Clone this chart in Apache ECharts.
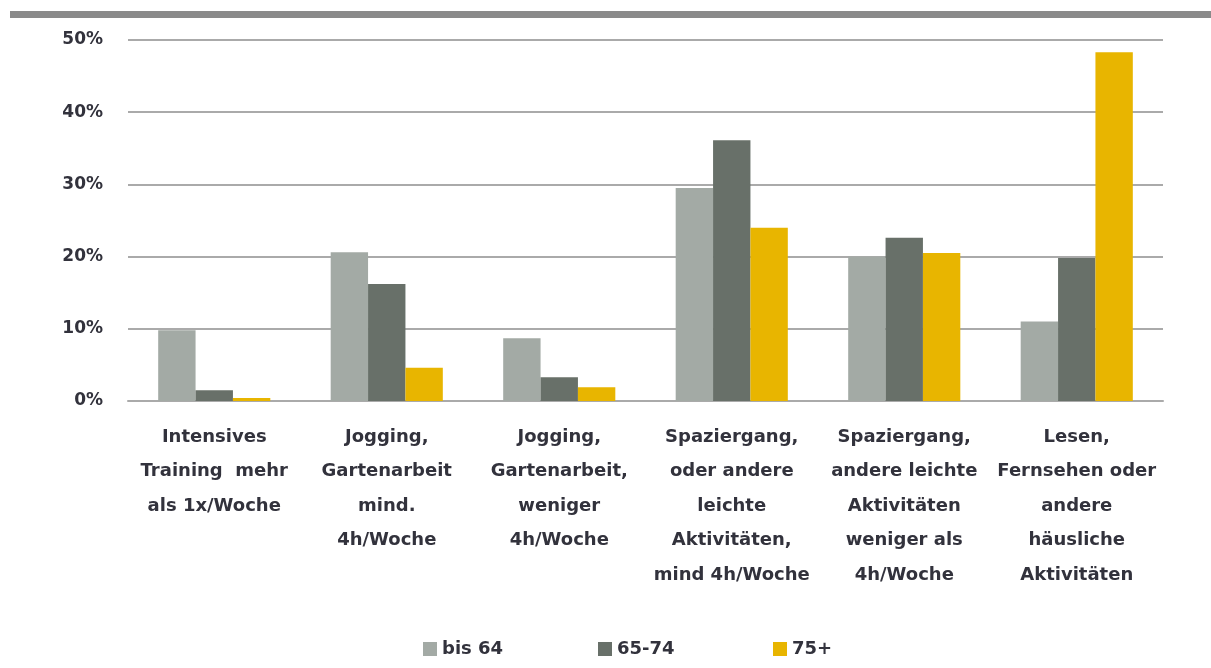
<!DOCTYPE html>
<html>
<head>
<meta charset="utf-8">
<script src="https://cdn.jsdelivr.net/npm/echarts@6/dist/echarts.min.js"></script>
<style>
  html, body { margin: 0; padding: 0; background: #fff; }
  #chart { width: 1211px; height: 668px; }
</style>
</head>
<body>
<div id="chart"></div>
<script>
// Activity categories (x axis)
const categories = [
  "Intensives\nTraining  mehr\nals 1x/Woche",
  "Jogging,\nGartenarbeit\nmind.\n4h/Woche",
  "Jogging,\nGartenarbeit,\nweniger\n4h/Woche",
  "Spaziergang,\noder andere\nleichte\nAktivitäten,\nmind 4h/Woche",
  "Spaziergang,\nandere leichte\nAktivitäten\nweniger als\n4h/Woche",
  "Lesen,\nFernsehen oder\nandere\nhäusliche\nAktivitäten"
];

// Share per age group, in percent
const bis64 = [9.8, 20.6, 8.7, 29.5, 20.0, 11.0];
const age65to74 = [1.5, 16.2, 3.3, 36.1, 22.6, 19.8];
const age75plus = [0.4, 4.6, 1.9, 24.0, 20.5, 48.3];

const seriesNames = ["bis 64", "65-74", "75+"];
const colors = ["#a3aaa5", "#687069", "#e8b500"];
const legendLeft = [418, 593, 768];

const chart = echarts.init(document.getElementById("chart"));

const font = "'DejaVu Sans', sans-serif";
const textColor = "#32323c";

const makeSeries = (name, data, color) => ({
  name,
  type: "bar",
  data,
  barGap: "0%",
  barCategoryGap: "35%",
  itemStyle: { color },
});

// one legend block per series so the spacing matches the original
const legends = seriesNames.map((name, i) => ({
  left: legendLeft[i],
  top: 635,
  itemWidth: 14,
  itemHeight: 14,
  itemGap: 0,
  icon: "rect",
  textStyle: { fontSize: 18, fontWeight: "bold", color: textColor, fontFamily: font },
  data: [name],
}));

chart.setOption({
  animation: false,
  textStyle: { fontFamily: font },
  grid: { left: 128, right: 48, top: 40, bottom: 267 },
  graphic: [
    {
      type: "rect",
      shape: { x: 10, y: 11, width: 1201, height: 7 },
      style: { fill: "#8a8a8a" },
    },
  ],
  legend: legends,
  xAxis: {
    type: "category",
    data: categories,
    axisTick: { show: false },
    axisLine: { lineStyle: { color: "#aaaaaa", width: 2 } },
    axisLabel: {
      interval: 0,
      margin: 19,
      fontSize: 18,
      fontWeight: "bold",
      lineHeight: 34.5,
      color: textColor,
      fontFamily: font,
    },
  },
  yAxis: {
    type: "value",
    min: 0,
    max: 50,
    interval: 10,
    axisLine: { show: false },
    axisTick: { show: false },
    splitLine: { lineStyle: { color: "#aaaaaa", width: 2 } },
    axisLabel: {
      margin: 25,
      fontSize: 17,
      fontWeight: "bold",
      color: textColor,
      fontFamily: font,
      formatter: (v) => v + "%",
    },
  },
  series: [
    makeSeries(seriesNames[0], bis64, colors[0]),
    makeSeries(seriesNames[1], age65to74, colors[1]),
    makeSeries(seriesNames[2], age75plus, colors[2]),
  ],
});
</script>
</body>
</html>
